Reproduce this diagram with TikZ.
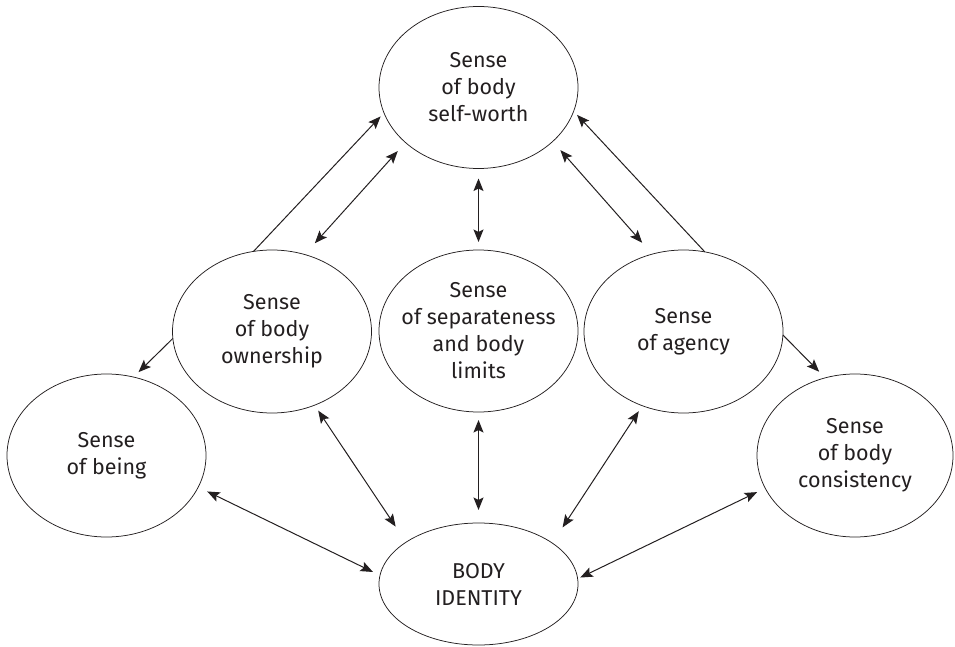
\documentclass[tikz,border=0pt]{standalone}
\usepackage{fontspec}
\setmainfont{Fira Sans}
\usetikzlibrary{shapes.geometric,arrows.meta}
\definecolor{ink}{HTML}{231F20}
\begin{document}
\begin{tikzpicture}[x=1pt,y=-1pt,
  oval/.style={draw=ink, line width=0.75pt, ellipse, inner sep=0pt, outer sep=0pt, minimum width=199pt, minimum height=162pt},
  lbl/.style={text=ink, align=center, font=\fontsize{21.5}{27}\selectfont, inner sep=0pt},
  tip/.tip={Stealth[length=12.5pt,width=10pt,inset=2.5pt]},
  link/.style={draw=ink, line width=1pt, tip-tip},
  one/.style={draw=ink, line width=1pt, -tip}]
\useasboundingbox (0,0) rectangle (955,647);

\node[oval] (T) at (478.5,87.5) {};
\node[oval, minimum height=163pt] (O) at (272,331.5) {};
\node[oval] (S) at (478.5,331) {};
\node[oval, minimum height=163pt] (A) at (683.5,331.5) {};
\node[oval, minimum height=163pt] (B) at (106.5,455.5) {};
\node[oval, minimum width=196pt, minimum height=163pt] (C) at (855,455.5) {};
\node[oval, minimum height=122pt] (I) at (478.5,584) {};

\node[lbl] (Tt) at (T) {Sense\\of body\\self-worth};
\node[lbl] (Ot) at (O) {Sense\\of body\\ownership};
\node[lbl] (St) at (S) {Sense\\of separateness\\and body\\limits};
\node[lbl] (At) at (A) {Sense\\of agency};
\node[lbl] (Bt) at (B) {Sense\\of being};
\node[lbl] (Ct) at (C) {Sense\\of body\\consistency};
\node[lbl] (It) at (I) {BODY\\IDENTITY};

\draw[one, shorten >=5pt] (O.103.95) -- (T.-165.9);
\draw[link, shorten <=15.2pt, shorten >=11.5pt] (O.67.55) -- (T.-143.9);
\draw[link, shorten <=10pt, shorten >=8pt] (T.south) -- (S.north);
\draw[link, shorten <=15.2pt, shorten >=11.5pt] (A.112.45) -- (T.-36.1);
\draw[one, shorten >=5pt] (A.75.5) -- (T.-14.1);
\draw[one, shorten >=7pt] (O.-176.8) -- (B.71.3);
\draw[one, shorten >=8.6pt] (A.-2) -- (C.111.9);
\draw[link, shorten <=10pt, shorten >=7.8pt] (B.-19.35) -- (I.175);
\draw[link, shorten <=6.6pt, shorten >=18.75pt] (O.-60.9) -- (I.150.4);
\draw[link, shorten <=8pt, shorten >=13pt] (S.south) -- (I.north);
\draw[link, shorten <=6.6pt, shorten >=18.75pt] (A.-119.1) -- (I.29.6);
\draw[link, shorten <=2.9pt, shorten >=9pt] (I.3.9) -- (C.-160.05);
\end{tikzpicture}
\end{document}
